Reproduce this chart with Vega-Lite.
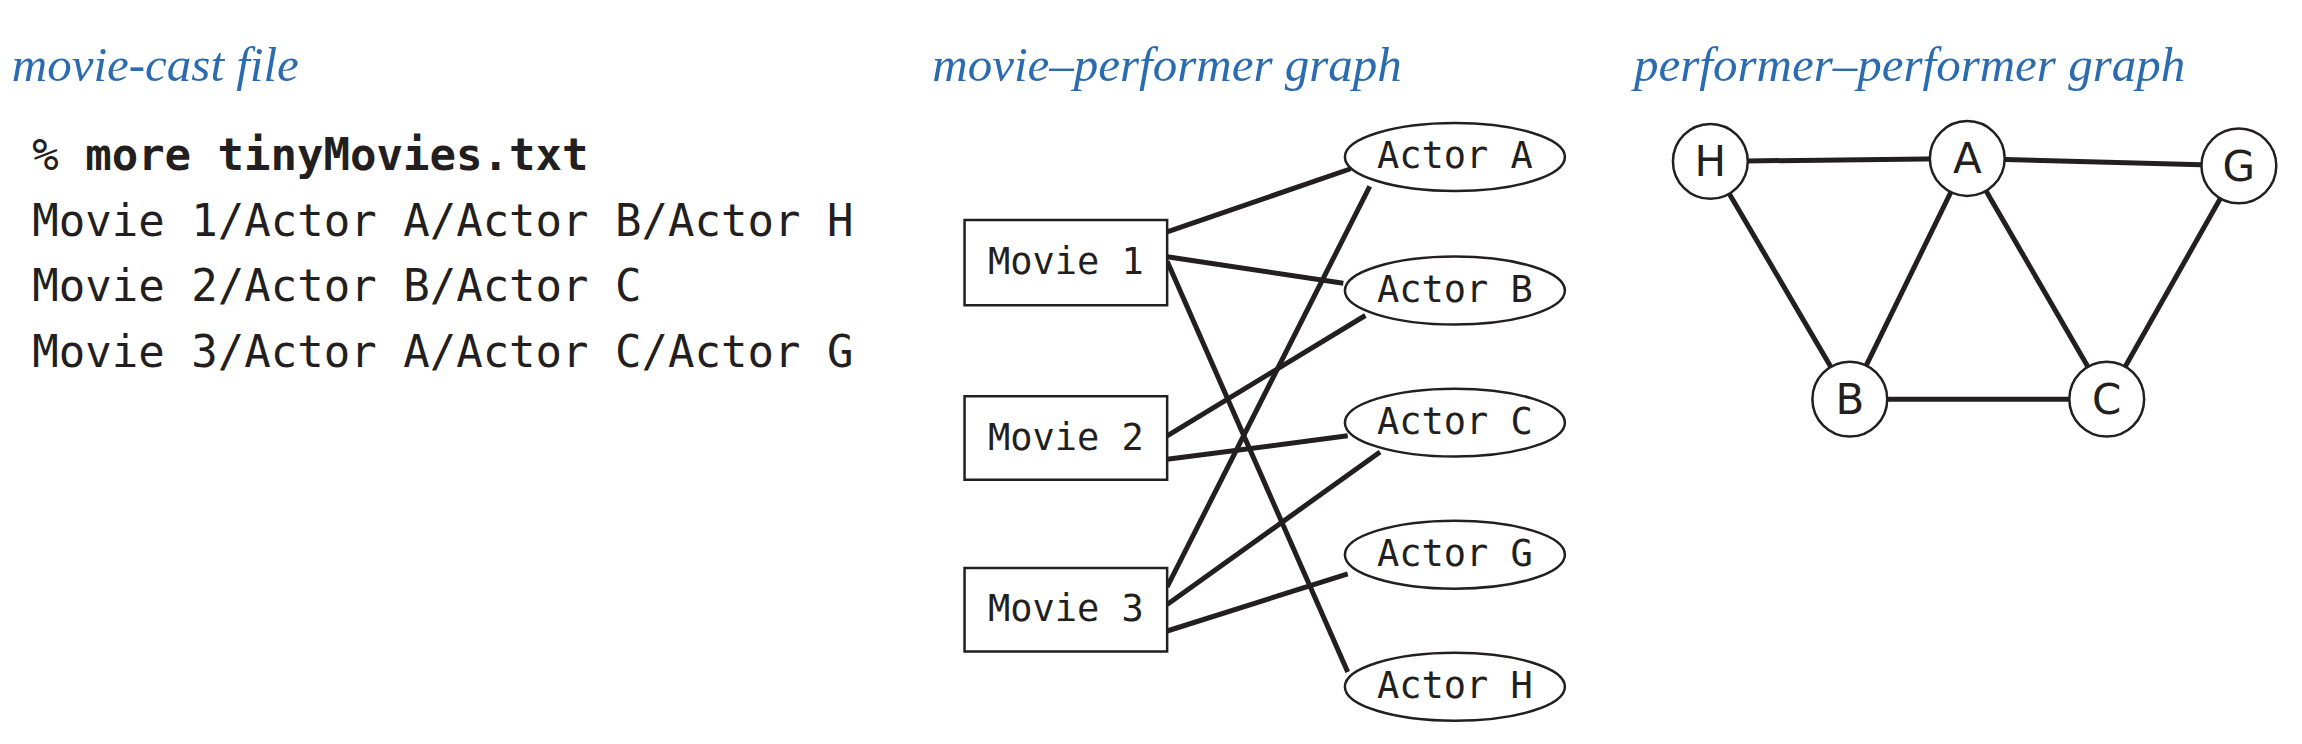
{
  "$schema": "https://vega.github.io/schema/vega-lite/v6.json",
  "width": 2302,
  "height": 744,
  "autosize": {"type": "fit", "contains": "padding"},
  "padding": 0,
  "background": "white",
  "config": {"view": {"stroke": null}},
  "datasets": {
    "edges": [
      {"x": 795, "y": 158, "x2": 920, "y2": 115},
      {"x": 795, "y": 175, "x2": 915, "y2": 193},
      {"x": 795, "y": 178, "x2": 918, "y2": 458},
      {"x": 795, "y": 297, "x2": 930, "y2": 215},
      {"x": 795, "y": 313, "x2": 918, "y2": 297},
      {"x": 795, "y": 400, "x2": 933, "y2": 127},
      {"x": 795, "y": 412, "x2": 940, "y2": 308},
      {"x": 795, "y": 430, "x2": 918, "y2": 391},
      {"x": 1165, "y": 110, "x2": 1340, "y2": 108},
      {"x": 1340, "y": 108, "x2": 1525, "y2": 113},
      {"x": 1165, "y": 110, "x2": 1260, "y2": 272},
      {"x": 1340, "y": 108, "x2": 1260, "y2": 272},
      {"x": 1340, "y": 108, "x2": 1435, "y2": 272},
      {"x": 1525, "y": 113, "x2": 1435, "y2": 272},
      {"x": 1260, "y": 272, "x2": 1435, "y2": 272}
    ],
    "movies": [
      {"label": "Movie 1", "x": 657, "x2": 795, "y": 150, "y2": 208, "cx": 726, "cy": 179},
      {"label": "Movie 2", "x": 657, "x2": 795, "y": 270, "y2": 327, "cx": 726, "cy": 299},
      {"label": "Movie 3", "x": 657, "x2": 795, "y": 387, "y2": 444, "cx": 726, "cy": 416}
    ],
    "actors": [
      {"label": "Actor A", "x": 991, "y": 107},
      {"label": "Actor B", "x": 991, "y": 198},
      {"label": "Actor C", "x": 991, "y": 288},
      {"label": "Actor G", "x": 991, "y": 378},
      {"label": "Actor H", "x": 991, "y": 468}
    ],
    "performers": [
      {"label": "H", "x": 1165, "y": 110},
      {"label": "A", "x": 1340, "y": 108},
      {"label": "G", "x": 1525, "y": 113},
      {"label": "B", "x": 1260, "y": 272},
      {"label": "C", "x": 1435, "y": 272}
    ],
    "titles": [
      {"label": "movie-cast file", "x": 8, "y": 45},
      {"label": "movie–performer graph", "x": 635, "y": 45},
      {"label": "performer–performer graph", "x": 1113, "y": 45}
    ],
    "code": [
      {"label": "%", "x": 22, "y": 107},
      {"label": "Movie 1/Actor A/Actor B/Actor H", "x": 22, "y": 152},
      {"label": "Movie 2/Actor B/Actor C", "x": 22, "y": 196},
      {"label": "Movie 3/Actor A/Actor C/Actor G", "x": 22, "y": 241}
    ],
    "bold": [
      {"label": "more tinyMovies.txt", "x": 58, "y": 107}
    ]
  },
  "encoding": {
    "x": {"field": "x", "type": "quantitative", "scale": {"domain": [0, 1568], "nice": false, "zero": false}, "axis": null},
    "y": {"field": "y", "type": "quantitative", "scale": {"domain": [0, 507], "nice": false, "zero": false, "reverse": true}, "axis": null}
  },
  "layer": [
    {
      "data": {"name": "edges"},
      "mark": {"type": "rule", "stroke": "#231f20", "strokeWidth": 5},
      "encoding": {"x2": {"field": "x2"}, "y2": {"field": "y2"}}
    },
    {
      "data": {"name": "movies"},
      "mark": {"type": "rect", "fill": "white", "stroke": "#231f20", "strokeWidth": 2.5},
      "encoding": {"x2": {"field": "x2"}, "y2": {"field": "y2"}}
    },
    {
      "data": {"name": "actors"},
      "mark": {"type": "point", "filled": false, "fill": "white", "fillOpacity": 1, "opacity": 1, "stroke": "#231f20", "strokeWidth": 2.5,
        "shape": "M-1,0A1,0.309,0,1,0,1,0A1,0.309,0,1,0,-1,0Z", "size": 48400}
    },
    {
      "data": {"name": "performers"},
      "mark": {"type": "point", "shape": "circle", "filled": false, "fill": "white", "fillOpacity": 1, "opacity": 1, "stroke": "#231f20", "strokeWidth": 2.5, "size": 5600}
    },
    {
      "data": {"name": "movies"},
      "mark": {"type": "text", "font": "DejaVu Sans Mono", "fontSize": 37, "color": "#231f20", "align": "center", "baseline": "middle"},
      "encoding": {"x": {"field": "cx", "type": "quantitative"}, "y": {"field": "cy", "type": "quantitative"}, "text": {"field": "label"}}
    },
    {
      "data": {"name": "actors"},
      "mark": {"type": "text", "font": "DejaVu Sans Mono", "fontSize": 37, "color": "#231f20", "align": "center", "baseline": "middle"},
      "encoding": {"text": {"field": "label"}}
    },
    {
      "data": {"name": "performers"},
      "mark": {"type": "text", "font": "DejaVu Sans", "fontSize": 42, "color": "#231f20", "align": "center", "baseline": "middle", "dy": 2},
      "encoding": {"text": {"field": "label"}}
    },
    {
      "data": {"name": "titles"},
      "mark": {"type": "text", "font": "Liberation Serif", "fontStyle": "italic", "fontSize": 49, "color": "#2b6cb0", "align": "left", "baseline": "middle"},
      "encoding": {"text": {"field": "label"}}
    },
    {
      "data": {"name": "code"},
      "mark": {"type": "text", "font": "DejaVu Sans Mono", "fontSize": 44, "color": "#231f20", "align": "left", "baseline": "middle"},
      "encoding": {"text": {"field": "label"}}
    },
    {
      "data": {"name": "bold"},
      "mark": {"type": "text", "font": "DejaVu Sans Mono", "fontWeight": "bold", "fontSize": 44, "color": "#231f20", "align": "left", "baseline": "middle"},
      "encoding": {"text": {"field": "label"}}
    }
  ]
}
